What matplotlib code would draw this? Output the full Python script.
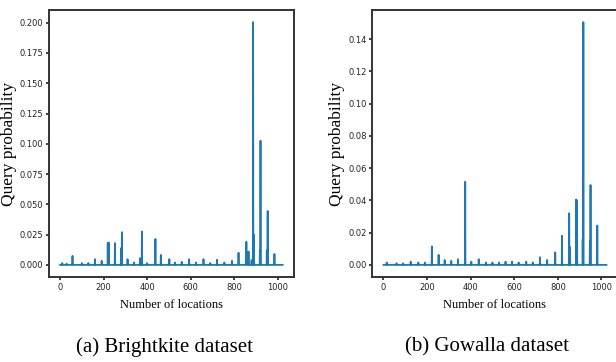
import numpy as np
import matplotlib
matplotlib.use("Agg")
import matplotlib.pyplot as plt

# number of locations in each dataset
n_locations = 1024

# Brightkite: location index -> query probability (peaks)
bk_locs = [10, 30, 57, 100, 130, 160, 191, 219, 223, 252, 280, 284, 310, 340,
           367, 376, 400, 438, 463, 502, 528, 559, 593, 625, 659, 690, 721,
           755, 790, 820, 856, 866, 880, 887, 891, 918, 921, 950, 954, 985]
bk_vals = [0.0015, 0.001, 0.0074, 0.0015, 0.0015, 0.0047, 0.0033, 0.018, 0.0185,
           0.018, 0.0137, 0.027, 0.0047, 0.002, 0.0055, 0.0275, 0.0015, 0.0214,
           0.0082, 0.0047, 0.002, 0.0025, 0.0047, 0.002, 0.0047, 0.0015, 0.0042,
           0.002, 0.0033, 0.010, 0.019, 0.011, 0.004, 0.2005, 0.025, 0.012,
           0.1025, 0.012, 0.0445, 0.009]

# Gowalla
gw_locs = [15, 60, 90, 125, 160, 190, 222, 253, 281, 311, 342, 375, 403, 437,
           470, 500, 530, 560, 590, 620, 655, 685, 718, 751, 788, 819, 852, 856,
           884, 888, 914, 917, 947, 950, 981]
gw_vals = [0.0015, 0.001, 0.001, 0.002, 0.0015, 0.0015, 0.0114, 0.0062, 0.003,
           0.0025, 0.0035, 0.0515, 0.002, 0.0035, 0.0015, 0.0015, 0.0015, 0.002,
           0.002, 0.0015, 0.002, 0.0015, 0.0047, 0.003, 0.0078, 0.018, 0.032,
           0.011, 0.0405, 0.040, 0.016, 0.1505, 0.015, 0.0495, 0.0244]

captions = ["(a) Brightkite dataset", "(b) Gowalla dataset"]


def toSeries(locs, vals):
    series = np.zeros(n_locations)
    series[locs] = vals
    return series


fig = plt.figure(figsize=(6.16, 3.62), dpi=100)
axLeft = fig.add_axes([0.0795, 0.2348, 0.3975, 0.7376])
axRight = fig.add_axes([0.6044, 0.2348, 0.3982, 0.7376])

serif = "Liberation Serif"
for ax, locs, vals in [(axLeft, bk_locs, bk_vals), (axRight, gw_locs, gw_vals)]:
    ax.plot(np.arange(n_locations), toSeries(locs, vals), color="#1f77b4", linewidth=1.3)
    ax.set_xticks([0, 200, 400, 600, 800, 1000])
    ax.tick_params(axis="both", labelsize=6, length=2.5, width=1.2, pad=1.5, colors="#222222")
    for s in ax.spines.values():
        s.set_linewidth(1.4)
        s.set_color("#333333")
    ax.set_ylabel("Query probability", fontsize=12.5, family=serif, labelpad=2)
    ax.set_xlabel("Number of locations", fontsize=9, family=serif, labelpad=5)

axLeft.set_yticks([0, 0.025, 0.05, 0.075, 0.1, 0.125, 0.15, 0.175, 0.2])
axLeft.yaxis.set_major_formatter(matplotlib.ticker.FormatStrFormatter("%.3f"))
axRight.set_yticks([0, 0.02, 0.04, 0.06, 0.08, 0.1, 0.12, 0.14])
axRight.yaxis.set_major_formatter(matplotlib.ticker.FormatStrFormatter("%.2f"))

fig.text(165 / 616, 1 - 347 / 362, captions[0], fontsize=15, family=serif, ha="center", va="center")
fig.text(487 / 616, 1 - 347 / 362, captions[1], fontsize=15, family=serif, ha="center", va="center")

fig.savefig("out.png", dpi=100)
plt.close()
